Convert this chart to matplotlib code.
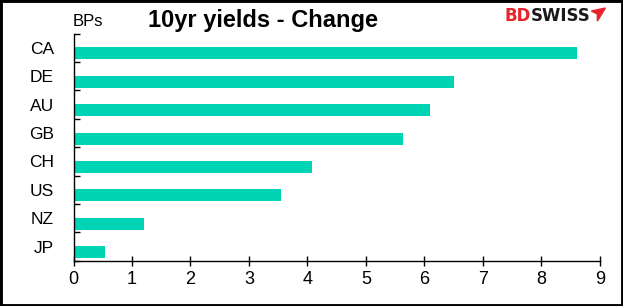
import matplotlib
matplotlib.use("Agg")
import matplotlib.pyplot as plt
from matplotlib.patches import Rectangle, Polygon
from matplotlib.ticker import FixedLocator

countries = ["CA", "DE", "AU", "GB", "CH", "US", "NZ", "JP"]
values = [8.61, 6.50, 6.10, 5.63, 4.08, 3.55, 1.20, 0.54]
xticks = [0, 1, 2, 3, 4, 5, 6, 7, 8, 9]

plt.rcParams['font.family'] = ['Liberation Sans', 'DejaVu Sans']

fig = plt.figure(figsize=(6.23, 3.06), dpi=100)
ax = fig.add_axes([0.118, 0.148, 0.8448, 0.7425])

ypos = list(range(len(countries)))
ax.barh([y + 0.2 for y in ypos], values, height=0.42, color="#00D4B4", zorder=2)

ax.set_ylim(len(countries) - 0.5, -0.5)
ax.set_xlim(0, 9)
ax.set_yticks(ypos)
ax.set_yticklabels(countries, fontsize=12.5)
ax.yaxis.set_minor_locator(FixedLocator([y - 0.5 for y in range(len(countries) + 1)]))
ax.tick_params(axis='y', which='major', length=0, pad=14)
ax.tick_params(axis='y', which='minor', direction='in', length=4.5, width=1, color='black')
ax.set_xticks(xticks)
ax.set_xticklabels([str(t) for t in xticks], fontsize=13)
ax.tick_params(axis='x', which='major', direction='inout', length=7.5, width=1, pad=4)

for s in ['top', 'right']:
    ax.spines[s].set_visible(False)
for s in ['left', 'bottom']:
    ax.spines[s].set_linewidth(1)
    ax.spines[s].set_color('black')

fig.text(0.4228, 0.9127, "10yr yields - Change", fontsize=17, fontweight='bold',
         ha='center', va='baseline')
fig.text(0.116, 0.916, "BPs", fontsize=12, ha='left', va='baseline')

# logo
t1 = fig.text(0.809, 0.931, "BD", fontsize=12, fontweight='bold', color='#E8232B',
              ha='left', va='baseline', family='DejaVu Sans')
fig.canvas.draw()
bb = t1.get_window_extent()
x2 = bb.x1 / fig.bbox.width
t2 = fig.text(x2, 0.931, "SWISS", fontsize=12, fontweight='bold', color='#1a1a1a',
              ha='left', va='baseline', family='DejaVu Sans')
fig.canvas.draw()
bb2 = t2.get_window_extent()
x3 = bb2.x1 / fig.bbox.width + 0.002
W, H = fig.bbox.width, fig.bbox.height
poly = Polygon([(x3, 1 - 11/H), (x3 + 14/W, 1 - 8/H), (x3 + 6/W, 1 - 21/H),
                (x3 + 6/W, 1 - 14/H)], closed=True, transform=fig.transFigure,
               color='#E8232B')
fig.patches.append(poly)

fig.patches.append(Rectangle((0, 0), 1, 1, transform=fig.transFigure, fill=False,
                             edgecolor='black', linewidth=3.5))

fig.savefig("out.png", dpi=100)
